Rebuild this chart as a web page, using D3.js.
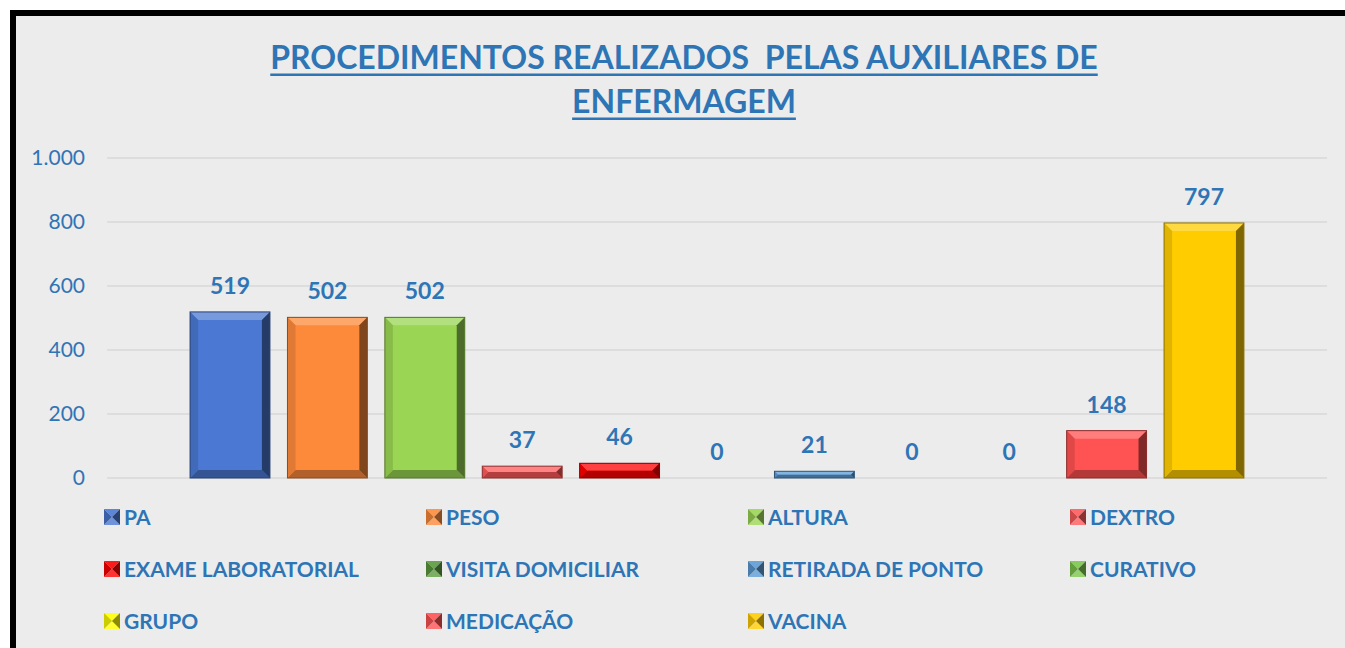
<!DOCTYPE html>
<html><head><meta charset="utf-8">
<script src="https://cdn.jsdelivr.net/npm/d3@7"></script>
<style>html,body{margin:0;padding:0;background:#fff;}svg{display:block;}</style>
</head><body><svg id="c" width="1345" height="648"></svg>
<script>
const categories = ["PA","PESO","ALTURA","DEXTRO","EXAME LABORATORIAL","VISITA DOMICILIAR","RETIRADA DE PONTO","CURATIVO","GRUPO","MEDICAÇÃO","VACINA"];
const values = [519,502,502,37,46,0,21,0,0,148,797];
const colors = ["#4a78d2","#fd8a3a","#9ad653","#ff5a5a","#ff0000","#5b9a3c","#5b9bd5","#7cc64c","#ffff00","#ff5252","#ffcc00"];
const yTicks = [0,200,400,600,800,1000];
const titleLines = ["PROCEDIMENTOS REALIZADOS  PELAS AUXILIARES DE","ENFERMAGEM"];

const svg = d3.select("#c");
const blue = "#2e75b6";
const font = "Lato, 'Open Sans', sans-serif";

svg.append("rect").attr("x",13).attr("y",13).attr("width",1400).attr("height",700)
  .attr("fill","#ececec").attr("stroke","#000").attr("stroke-width",6);

// title
const tY = [69,113];
titleLines.forEach((t,i)=>{
  const tx = svg.append("text").attr("x",684).attr("y",tY[i]).attr("text-anchor","middle")
    .attr("fill",blue).attr("font-family",font).attr("font-weight","bold").attr("font-size",32)
    .style("white-space","pre").text(t);
  const bb = tx.node().getBBox();
  svg.append("rect").attr("x",bb.x).attr("y",tY[i]+4.5).attr("width",bb.width).attr("height",2.5).attr("fill",blue);
});

const y = d3.scaleLinear().domain([0,1000]).range([478,158]);
const x = d3.scaleBand().domain(categories).range([717-5.5*97.4, 717+5.5*97.4]).paddingInner(0.18).paddingOuter(0.09);

// grid
svg.append("g").selectAll("line").data(yTicks).join("line")
  .attr("x1",107).attr("x2",1327).attr("y1",d=>y(d)).attr("y2",d=>y(d))
  .attr("stroke","#d9d9d9").attr("stroke-width",1.5);

const fmt = d3.formatLocale({decimal:",",thousands:".",grouping:[3],currency:["",""]}).format(",d");
svg.append("g").selectAll("text").data(yTicks).join("text")
  .attr("x",85).attr("y",d=>y(d)).attr("dy","0.35em").attr("text-anchor","end")
  .attr("fill",blue).attr("font-family",font).attr("font-size",21).text(d=>fmt(d));

// bevelled bars
function shade(c,k){ return k>0 ? d3.interpolateRgb(c,"#fff")(k) : d3.interpolateRgb(c,"#000")(-k); }
const bars = svg.append("g");
categories.forEach((cat,i)=>{
  const v = values[i]; if(v<=0) return;
  const x0 = x(cat), x1 = x0 + x.bandwidth(), y0 = y(v), y1 = y(0);
  const h = y1-y0;
  const b = Math.min(8, h/2);
  const c = colors[i];
  const g = bars.append("g");
  g.append("rect").attr("x",x0).attr("y",y0).attr("width",x1-x0).attr("height",h).attr("fill",c);
  const P = (pts)=> "M"+pts.map(p=>p.join(",")).join("L")+"Z";
  g.append("path").attr("d",P([[x0,y0],[x1,y0],[x1-b,y0+b],[x0+b,y0+b]])).attr("fill",shade(c,0.25));
  g.append("path").attr("d",P([[x0,y1],[x1,y1],[x1-b,y1-b],[x0+b,y1-b]])).attr("fill",shade(c,-0.3));
  g.append("path").attr("d",P([[x1,y0],[x1,y1],[x1-b,y1-b],[x1-b,y0+b]])).attr("fill",shade(c,-0.5));
  g.append("path").attr("d",P([[x0,y0],[x0,y1],[x0+b,y1-b],[x0+b,y0+b]])).attr("fill",shade(c,-0.12));
  g.append("rect").attr("x",x0).attr("y",y0).attr("width",x1-x0).attr("height",h).attr("fill","none").attr("stroke",shade(c,-0.45)).attr("stroke-width",1);
});

// value labels
svg.append("g").selectAll("text").data(categories).join("text")
  .attr("x",d=>x(d)+x.bandwidth()/2).attr("y",(d,i)=>y(values[i])-26).attr("dy","0.35em")
  .attr("text-anchor","middle").attr("fill",blue).attr("font-family",font).attr("font-weight","bold").attr("font-size",23)
  .text((d,i)=>values[i]);

// legend
const colX = [104,426,748,1070], rowY = [517,569,621];
categories.forEach((cat,i)=>{
  const cx = colX[i%4], cy = rowY[Math.floor(i/4)];
  const c = colors[i], s = 16, x0=cx, y0=cy-8, x1=cx+s, y1=cy+8, m=[cx+s/2,cy];
  const g = svg.append("g");
  const P = (pts)=> "M"+pts.map(p=>p.join(",")).join("L")+"Z";
  g.append("path").attr("d",P([[x0,y0],[x1,y0],m])).attr("fill",shade(c,0.1));
  g.append("path").attr("d",P([[x0,y1],[x1,y1],m])).attr("fill",shade(c,0.2));
  g.append("path").attr("d",P([[x1,y0],[x1,y1],m])).attr("fill",shade(c,-0.45));
  g.append("path").attr("d",P([[x0,y0],[x0,y1],m])).attr("fill",shade(c,-0.2));
  g.append("text").attr("x",cx+20).attr("y",cy).attr("dy","0.36em").attr("fill",blue)
    .attr("font-family",font).attr("font-weight","bold").attr("font-size",21).text(cat);
});
</script></body></html>
